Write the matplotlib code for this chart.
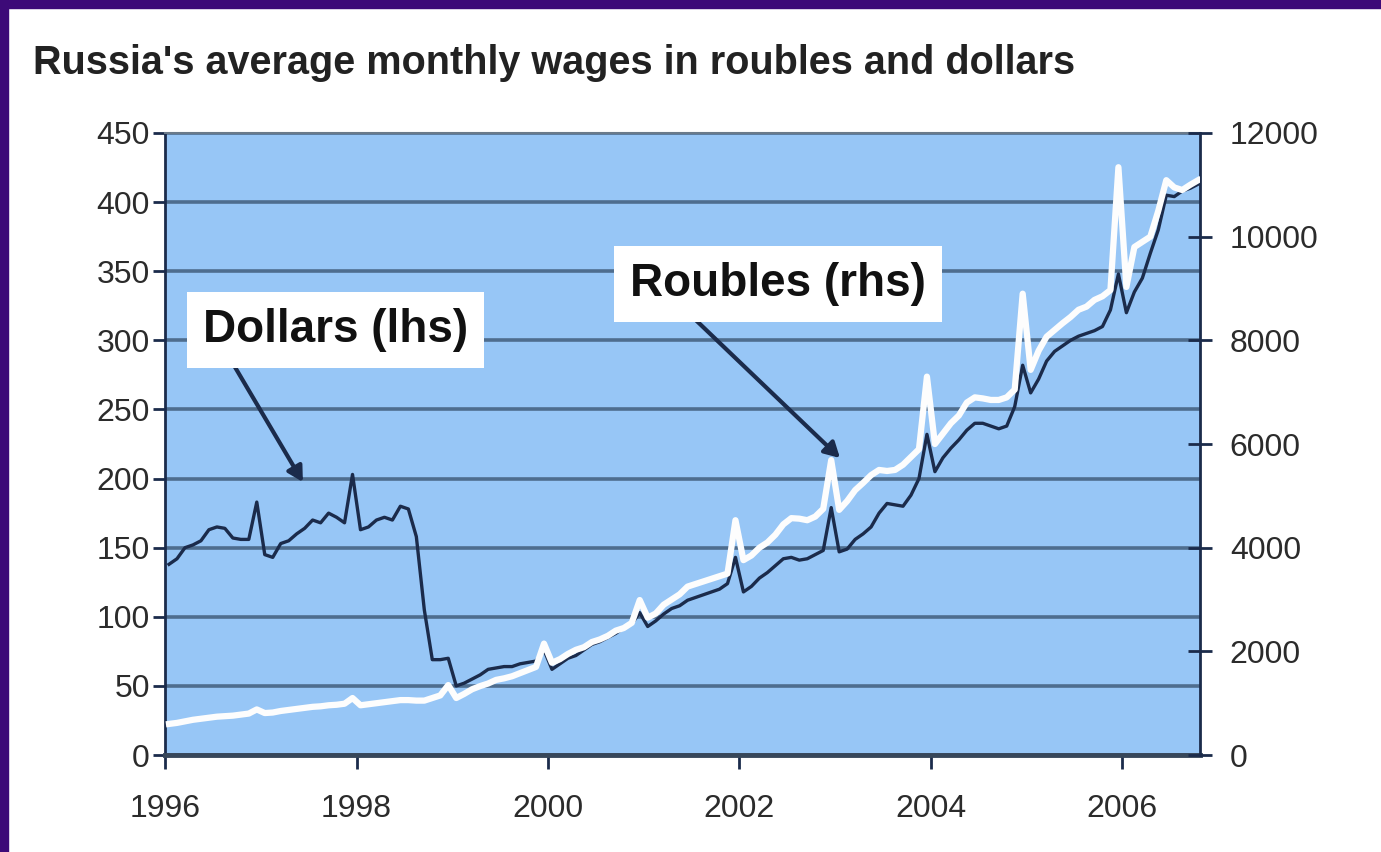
import numpy as np
import matplotlib.pyplot as plt
from matplotlib.patches import Rectangle

plt.rcParams['font.family'] = ['Liberation Sans', 'DejaVu Sans']

# monthly averages, Jan 1996 - Oct 2006
dollars = [138, 142, 150, 152, 155, 163, 165, 164, 157, 156, 156, 183,
           145, 143, 153, 155, 160, 164, 170, 168, 175, 172, 168, 203,
           163, 165, 170, 172, 170, 180, 178, 158, 105, 69, 69, 70,
           50, 52, 55, 58, 62, 63, 64, 64, 66, 67, 68, 76,
           62, 66, 70, 72, 76, 80, 82, 85, 88, 92, 95, 103,
           93, 97, 102, 106, 108, 112, 114, 116, 118, 120, 124, 143,
           118, 122, 128, 132, 137, 142, 143, 141, 142, 145, 148, 179,
           147, 149, 156, 160, 165, 175, 182, 181, 180, 188, 200, 232,
           205, 215, 222, 228, 235, 240, 240, 238, 236, 238, 252, 282,
           262, 272, 285, 292, 296, 300, 303, 305, 307, 310, 322, 348,
           320, 335, 345, 363, 380, 405, 404, 408, 410, 413]
roubles = [600, 620, 650, 680, 700, 720, 740, 750, 760, 780, 800, 880,
           810, 820, 850, 870, 890, 910, 930, 940, 960, 970, 990, 1100,
           960, 980, 1000, 1020, 1040, 1060, 1060, 1050, 1050, 1100, 1150, 1350,
           1100, 1180, 1270, 1330, 1380, 1450, 1480, 1520, 1580, 1640, 1700, 2150,
           1780, 1850, 1950, 2030, 2080, 2180, 2230, 2300, 2400, 2450, 2550, 2990,
           2650, 2730, 2900, 3000, 3100, 3250, 3300, 3350, 3400, 3450, 3500, 4530,
           3760, 3850, 4000, 4100, 4250, 4450, 4570, 4560, 4530, 4600, 4750, 5690,
           4730, 4900, 5110, 5250, 5400, 5500, 5480, 5500, 5600, 5750, 5900, 7300,
           6000, 6200, 6400, 6550, 6800, 6900, 6880, 6850, 6850, 6900, 7050, 8900,
           7430, 7800, 8070, 8200, 8330, 8450, 8590, 8650, 8780, 8850, 8970, 11340,
           9030, 9800, 9900, 10000, 10500, 11090, 10950, 10900, 11000, 11090]
start_year = 1996
year_ticks = [1996, 1998, 2000, 2002, 2004, 2006]
lhs_ticks = [0, 50, 100, 150, 200, 250, 300, 350, 400, 450]
rhs_ticks = [0, 2000, 4000, 6000, 8000, 10000, 12000]

months = np.arange(len(dollars))
dates = start_year + (months + 0.5) / 12.0

navy = '#1b2b4b'
label_col = '#2b2b2b'

fig = plt.figure(figsize=(13.81, 8.52), dpi=100)
fig.patch.set_facecolor('white')
# purple frame on top and left
fig.patches.append(Rectangle((0, 0.9906), 1, 0.01, transform=fig.transFigure,
                             color='#3d0a78', zorder=0))
fig.patches.append(Rectangle((0, 0), 0.0058, 1, transform=fig.transFigure,
                             color='#3d0a78', zorder=0))

ax = fig.add_axes([0.1195, 0.1138, 0.7494, 0.7301])
ax.set_facecolor('#97c6f6')
ax.plot(dates, dollars, color=navy, lw=2.4, zorder=3)
ax.set_xlim(1996, 2006.81)
ax.set_ylim(0, 450)
ax.set_yticks(lhs_ticks)
ax.set_xticks(year_ticks)
ax.yaxis.grid(True, color='#4e6d8e', lw=2.6)
ax.set_axisbelow(True)
ax.tick_params(axis='y', direction='out', length=9, width=2, color=navy,
               labelsize=23, labelcolor=label_col, pad=2)
ax.tick_params(axis='x', direction='out', length=10, width=2, color=navy,
               labelsize=23, labelcolor=label_col, pad=18)
ax.spines['left'].set_color(navy)
ax.spines['left'].set_linewidth(2)
ax.spines['bottom'].set_color('#37475a')
ax.spines['bottom'].set_linewidth(3.5)
ax.spines['top'].set_color('#6a7a8a')
ax.spines['top'].set_linewidth(1.5)
ax.spines['right'].set_visible(False)

ax2 = ax.twinx()
ax2.plot(dates, roubles, color='#fdfdfd', lw=4.5, zorder=3)
ax2.set_ylim(0, 12000)
ax2.set_yticks(rhs_ticks)
ax2.tick_params(axis='y', direction='inout', length=17, width=2, color=navy,
                labelsize=23, labelcolor=label_col, pad=13)
for s in ['left', 'top', 'bottom']:
    ax2.spines[s].set_visible(False)
ax2.spines['right'].set_color(navy)
ax2.spines['right'].set_linewidth(2)

box = dict(boxstyle='square,pad=0.35', fc='white', ec='none')
arrow = dict(arrowstyle='-|>,head_length=0.9,head_width=0.5', color=navy, lw=3,
             shrinkA=0, shrinkB=0)
ax2.annotate('', xy=(1997.44, 5267), xytext=(1996.73, 7486), arrowprops=arrow, zorder=5)
ax2.annotate('', xy=(2003.05, 5730), xytext=(2001.51, 8451), arrowprops=arrow, zorder=5)
ax2.text(1997.78, 8200, 'Dollars (lhs)', fontsize=33, fontweight='bold', color='#111111',
         ha='center', va='center', bbox=box, zorder=6)
ax2.text(2002.40, 9088, 'Roubles (rhs)', fontsize=33, fontweight='bold', color='#111111',
         ha='center', va='center', bbox=box, zorder=6)

fig.text(0.024, 0.913, "Russia's average monthly wages in roubles and dollars",
         fontsize=28.5, fontweight='bold', color='#222222', ha='left', va='baseline')

fig.savefig('out.png', dpi=100)
